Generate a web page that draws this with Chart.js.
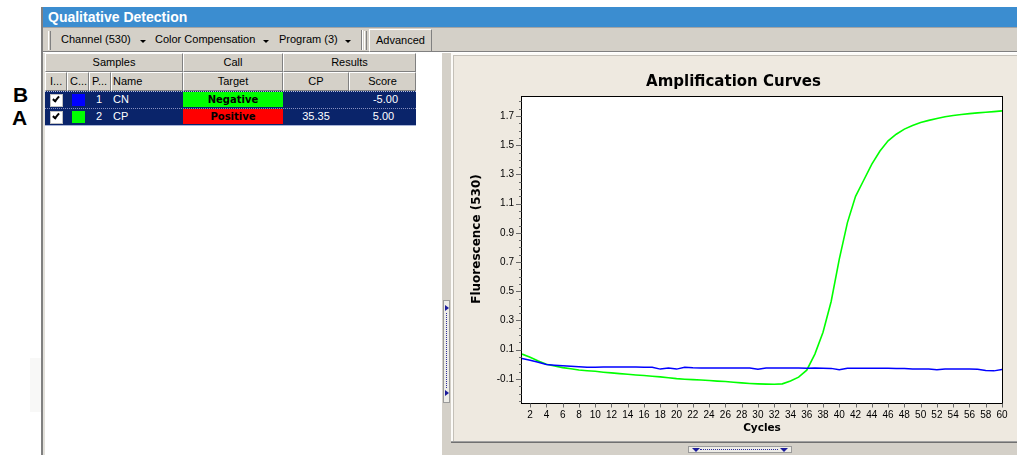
<!DOCTYPE html>
<html>
<head>
<meta charset="utf-8">
<script src="https://cdn.jsdelivr.net/npm/chart.js@4.4.1/dist/chart.umd.min.js"></script>
<style>
html,body{margin:0;padding:0;}
body{width:1017px;height:455px;position:relative;overflow:hidden;background:#fff;font-family:"Liberation Sans",Arial,sans-serif;}
.a{position:absolute;box-sizing:border-box;}
.letter{font:bold 21px/21px "Liberation Sans";color:#000;}
.tb{font:11px/23px "Liberation Sans";color:#000;top:28px;white-space:nowrap;}
.tri{width:0;height:0;border-left:3px solid transparent;border-right:3px solid transparent;border-top:3px solid #000;top:40px;}
.hc{background:#d4d0c8;border-top:1px solid #fff;border-left:1px solid #fff;border-right:1px solid #808080;border-bottom:1px solid #808080;font:11px/17px "Liberation Sans";color:#000;text-align:center;white-space:nowrap;overflow:hidden;height:19px;}
.hl{text-align:left;padding-left:2px;}
.row{left:45px;width:371px;height:17px;background:#0a246a;}
.rt{font:11px/17px "Liberation Sans";color:#fff;white-space:nowrap;}
.chk{width:13px;height:13px;background:#fff;border:1px solid #c0c0c0;}
.mark{width:4px;height:7px;border-right:2px solid #000;border-bottom:2px solid #000;transform:rotate(40deg);}
.tgt{width:100px;height:15px;font:bold 10px/15px "DejaVu Sans";color:#000;text-align:center;}
.rtri{width:0;height:0;border-top:3px solid transparent;border-bottom:3px solid transparent;border-left:4px solid #1a1a9a;}
.dtri{width:0;height:0;border-left:4px solid transparent;border-right:4px solid transparent;border-top:4px solid #1a1a9a;}
</style>
</head>
<body>
<!-- side labels -->
<div class="a letter" style="left:13px;top:84px">B</div>
<div class="a letter" style="left:12px;top:107px">A</div>
<div class="a" style="left:30px;top:358px;width:11px;height:54px;background:#f8f8f7"></div>

<!-- left frame line -->
<div class="a" style="left:41px;top:7px;width:2px;height:448px;background:#808080"></div>
<div class="a" style="left:43px;top:53px;width:2px;height:402px;background:#e2e0da"></div>

<!-- title bar -->
<div class="a" style="left:43px;top:7px;width:974px;height:20px;background:#3b8dd0;color:#fff;font:bold 14px/20px 'Liberation Sans';padding-left:5px;white-space:nowrap">Qualitative Detection</div>
<div class="a" style="left:43px;top:27px;width:974px;height:1px;background:#a4a4a4"></div>

<!-- toolbar -->
<div class="a" style="left:43px;top:28px;width:974px;height:23px;background:#d4d0c8"></div>
<div class="a" style="left:43px;top:51px;width:974px;height:1px;background:#808080"></div>
<div class="a" style="left:43px;top:52px;width:974px;height:1px;background:#fff"></div>
<div class="a" style="left:48px;top:31px;width:3px;height:19px;border-left:1px solid #fff;border-right:1px solid #808080"></div>
<div class="a tb" style="left:61px">Channel (530)</div>
<div class="a tri" style="left:140px"></div>
<div class="a tb" style="left:155px">Color Compensation</div>
<div class="a tri" style="left:263px"></div>
<div class="a tb" style="left:279px">Program (3)</div>
<div class="a tri" style="left:345px"></div>
<div class="a" style="left:361px;top:30px;width:2px;height:20px;border-left:1px solid #808080;border-right:1px solid #fff"></div>
<div class="a" style="left:364px;top:31px;width:3px;height:19px;border-left:1px solid #fff;border-right:1px solid #808080"></div>
<div class="a tb" style="left:369px;top:29px;width:63px;height:23px;line-height:20px;border-top:1px solid #fff;border-left:1px solid #fff;border-right:1px solid #808080;border-bottom:1px solid #808080;padding-left:6px">Advanced</div>

<!-- table header -->
<div class="a hc" style="left:45px;top:53px;width:138px">Samples</div>
<div class="a hc" style="left:183px;top:53px;width:100px">Call</div>
<div class="a hc" style="left:283px;top:53px;width:133px">Results</div>
<div class="a hc hl" style="left:45px;top:72px;width:22px;padding-left:4px">I...</div>
<div class="a hc hl" style="left:67px;top:72px;width:22px">C...</div>
<div class="a hc hl" style="left:89px;top:72px;width:22px">P...</div>
<div class="a hc hl" style="left:111px;top:72px;width:72px;padding-left:1px">Name</div>
<div class="a hc" style="left:183px;top:72px;width:100px">Target</div>
<div class="a hc" style="left:283px;top:72px;width:66px">CP</div>
<div class="a hc" style="left:349px;top:72px;width:67px">Score</div>

<!-- rows -->
<div class="a row" style="top:91px;border-top:1px dotted #b8c0e0"></div>
<div class="a row" style="top:108px;border-top:1px dotted #8890c0"></div>
<div class="a" style="left:45px;top:125px;width:371px;height:1px;background:#a8b4d8"></div>

<div class="a chk" style="left:50px;top:94px"></div>
<div class="a mark" style="left:54px;top:95px"></div>
<div class="a" style="left:72px;top:94px;width:13px;height:12px;background:#0000ff"></div>
<div class="a rt" style="left:89px;top:91px;width:13px;text-align:right">1</div>
<div class="a rt" style="left:113px;top:91px">CN</div>
<div class="a tgt" style="left:183px;top:92px;background:#00ff00">Negative</div>
<div class="a rt" style="left:352px;top:91px;width:67px;text-align:center">-5.00</div>

<div class="a chk" style="left:50px;top:111px"></div>
<div class="a mark" style="left:54px;top:112px"></div>
<div class="a" style="left:72px;top:111px;width:13px;height:12px;background:#00ff00"></div>
<div class="a rt" style="left:89px;top:108px;width:13px;text-align:right">2</div>
<div class="a rt" style="left:113px;top:108px">CP</div>
<div class="a tgt" style="left:183px;top:109px;background:#ff0000">Positive</div>
<div class="a rt" style="left:283px;top:108px;width:66px;text-align:center">35.35</div>
<div class="a rt" style="left:350px;top:108px;width:67px;text-align:center">5.00</div>

<!-- splitter strip -->
<div class="a" style="left:442px;top:53px;width:9px;height:402px;background:#d4d0c8"></div>
<div class="a" style="left:443px;top:300px;width:7px;height:103px;background:#eeede8;border:1px solid #9a9a9a"></div>
<div class="a rtri" style="left:445px;top:305px"></div>
<div class="a rtri" style="left:445px;top:390px"></div>
<div class="a" style="left:446px;top:313px;width:1px;height:75px;border-left:1px dotted #2a2a9a"></div>

<!-- chart panel -->
<div class="a" style="left:451px;top:53px;width:566px;height:389px;background:#fcfbf8"></div>
<div class="a" style="left:453px;top:55px;width:564px;height:386px;background:#c4c0b8"></div>
<div class="a" style="left:454px;top:56px;width:563px;height:385px;background:#eee9e0"></div>
<div class="a" style="left:451px;top:441px;width:566px;height:1px;background:#a0a0a0"></div>
<div class="a" style="left:451px;top:442px;width:566px;height:1px;background:#707070"></div>
<div class="a" style="left:451px;top:443px;width:566px;height:12px;background:#d4d0c8"></div>
<div class="a" style="left:688px;top:446px;width:104px;height:7px;background:#eeede8;border:1px solid #9a9a9a"></div>
<div class="a dtri" style="left:692px;top:448px"></div>
<div class="a dtri" style="left:780px;top:448px"></div>
<div class="a" style="left:700px;top:449px;width:78px;height:1px;border-top:1px dotted #2a2a9a"></div>

<canvas id="c" width="562" height="384" style="position:absolute;left:455px;top:57px;width:562px;height:384px"></canvas>

<script>
const cycles = [1,2,3,4,5,6,7,8,9,10,11,12,13,14,15,16,17,18,19,20,21,22,23,24,25,26,27,28,29,30,
  31,32,33,34,35,36,37,38,39,40,41,42,43,44,45,46,47,48,49,50,51,52,53,54,55,56,57,58,59,60];

// Sample 1 CN (blue)
const cnFluorescence = [0.039,0.028,0.014,-0.002,-0.006,-0.010,-0.013,-0.016,-0.020,-0.020,
  -0.019,-0.019,-0.019,-0.019,-0.019,-0.020,-0.021,-0.033,-0.026,-0.033,
  -0.020,-0.024,-0.025,-0.025,-0.025,-0.026,-0.026,-0.026,-0.026,-0.034,
  -0.026,-0.026,-0.026,-0.026,-0.026,-0.027,-0.026,-0.027,-0.028,-0.038,
  -0.027,-0.027,-0.027,-0.027,-0.027,-0.027,-0.028,-0.028,-0.032,-0.032,
  -0.032,-0.037,-0.033,-0.033,-0.033,-0.033,-0.034,-0.043,-0.045,-0.036];

// Sample 2 CP (green)
const cpFluorescence = [0.070,0.048,0.022,0.000,-0.012,-0.023,-0.031,-0.039,-0.044,-0.048,
  -0.054,-0.059,-0.064,-0.068,-0.073,-0.077,-0.082,-0.086,-0.092,-0.098,
  -0.102,-0.105,-0.108,-0.111,-0.115,-0.118,-0.123,-0.127,-0.131,-0.134,
  -0.136,-0.137,-0.134,-0.115,-0.088,-0.040,0.070,0.220,0.430,0.720,
  0.970,1.150,1.260,1.370,1.460,1.530,1.575,1.610,1.635,1.655,
  1.670,1.683,1.695,1.703,1.710,1.716,1.721,1.726,1.730,1.735];

const xTickValues = [2,4,6,8,10,12,14,16,18,20,22,24,26,28,30,32,34,36,38,40,42,44,46,48,50,52,54,56,58,60];
const yMajorTicks = [-0.1,0.1,0.3,0.5,0.7,0.9,1.1,1.3,1.5,1.7];
const yMinorTicks = [-0.25,-0.2,-0.15,-0.1,-0.05,0,0.05,0.1,0.15,0.2,0.25,0.3,0.35,0.4,0.45,0.5,0.55,0.6,0.65,0.7,
  0.75,0.8,0.85,0.9,0.95,1,1.05,1.1,1.15,1.2,1.25,1.3,1.35,1.4,1.45,1.5,1.55,1.6,1.65,1.7,1.75,1.8];
const yAxisTitle = 'Fluorescence (530)';

const isMajor = v => yMajorTicks.some(t => Math.abs(t - v) < 1e-6);

const framePlugin = {
  id: 'frame',
  beforeDatasetsDraw(chart) {
    const {ctx, chartArea: a} = chart;
    ctx.save();
    ctx.fillStyle = '#ffffff';
    ctx.fillRect(a.left, a.top, a.right - a.left, a.bottom - a.top);
    ctx.restore();
  },
  afterDatasetsDraw(chart) {
    const {ctx, chartArea: a, scales} = chart;
    ctx.save();
    ctx.strokeStyle = '#000000';
    ctx.lineWidth = 1;
    ctx.strokeRect(Math.round(a.left) - 0.5, Math.round(a.top) - 0.5, Math.round(a.right - a.left) + 1, Math.round(a.bottom - a.top) + 1);
    ctx.strokeStyle = '#6a6a6a';
    ctx.beginPath();
    yMinorTicks.forEach(v => {
      const py = Math.round(scales.y.getPixelForValue(v)) + 0.5;
      const len = isMajor(v) ? 6 : 3;
      ctx.moveTo(a.left - len, py);
      ctx.lineTo(a.left - 0.5, py);
    });
    xTickValues.forEach(v => {
      const px = Math.round(scales.x.getPixelForValue(v)) + 0.5;
      ctx.moveTo(px, a.bottom + 0.5);
      ctx.lineTo(px, a.bottom + 4.5);
    });
    ctx.stroke();
    // y axis title
    ctx.translate(scales.y.left + 12, (a.top + a.bottom) / 2 - 11);
    ctx.rotate(-Math.PI / 2);
    ctx.fillStyle = '#000';
    ctx.font = 'bold 12px "DejaVu Sans"';
    ctx.textAlign = 'center';
    ctx.textBaseline = 'middle';
    ctx.fillText(yAxisTitle, 0, 0);
    ctx.restore();
  }
};

new Chart(document.getElementById('c'), {
  type: 'line',
  data: {
    datasets: [
      { label: 'CN', data: cycles.map((c, i) => ({x: c, y: cnFluorescence[i]})),
        borderColor: '#0000ff', borderWidth: 1.5, pointRadius: 0, tension: 0, fill: false },
      { label: 'CP', data: cycles.map((c, i) => ({x: c, y: cpFluorescence[i]})),
        borderColor: '#00ff00', borderWidth: 1.6, pointRadius: 0, tension: 0, fill: false }
    ]
  },
  options: {
    responsive: false,
    animation: false,
    devicePixelRatio: 1,
    events: [],
    layout: { padding: { left: 10, right: 15, top: 0, bottom: 0 } },
    plugins: {
      legend: { display: false },
      tooltip: { enabled: false },
      title: {
        display: true, text: 'Amplification Curves', color: '#000',
        font: { family: 'DejaVu Sans', size: 15, weight: 'bold', lineHeight: 1.2 },
        padding: { top: 16, bottom: 6 }
      }
    },
    scales: {
      x: {
        type: 'linear', min: 1, max: 60,
        afterBuildTicks: s => { s.ticks = xTickValues.map(v => ({value: v})); },
        afterFit: s => { s.height = 38; s.paddingLeft = 0; s.paddingRight = 0; },
        ticks: { autoSkip: false, maxRotation: 0, padding: 2, color: '#000',
          font: { family: 'Liberation Sans', size: 10 }, callback: v => String(v) },
        grid: { drawOnChartArea: false, drawTicks: true, tickLength: 4, color: 'rgba(0,0,0,0)' },
        border: { display: false },
        title: { display: true, text: 'Cycles', color: '#000',
          font: { family: 'DejaVu Sans', size: 10.5, weight: 'bold', lineHeight: 1.2 },
          padding: { top: 0, bottom: 6 } }
      },
      y: {
        type: 'linear', min: -0.265, max: 1.83,
        afterBuildTicks: s => { s.ticks = yMinorTicks.map(v => ({value: v})); },
        afterFit: s => { s.width = 57; s.paddingTop = 0; s.paddingBottom = 0; },
        ticks: { autoSkip: false, padding: 2, color: '#000',
          font: { family: 'Liberation Sans', size: 10 },
          callback: v => { const m = yMajorTicks.find(t => Math.abs(t - v) < 1e-6); return m === undefined ? '' : m.toFixed(1); } },
        grid: { drawOnChartArea: false, drawTicks: true, tickLength: 6, color: 'rgba(0,0,0,0)' },
        border: { display: false },
        title: { display: false }
      }
    }
  },
  plugins: [framePlugin]
});
</script>
</body>
</html>
